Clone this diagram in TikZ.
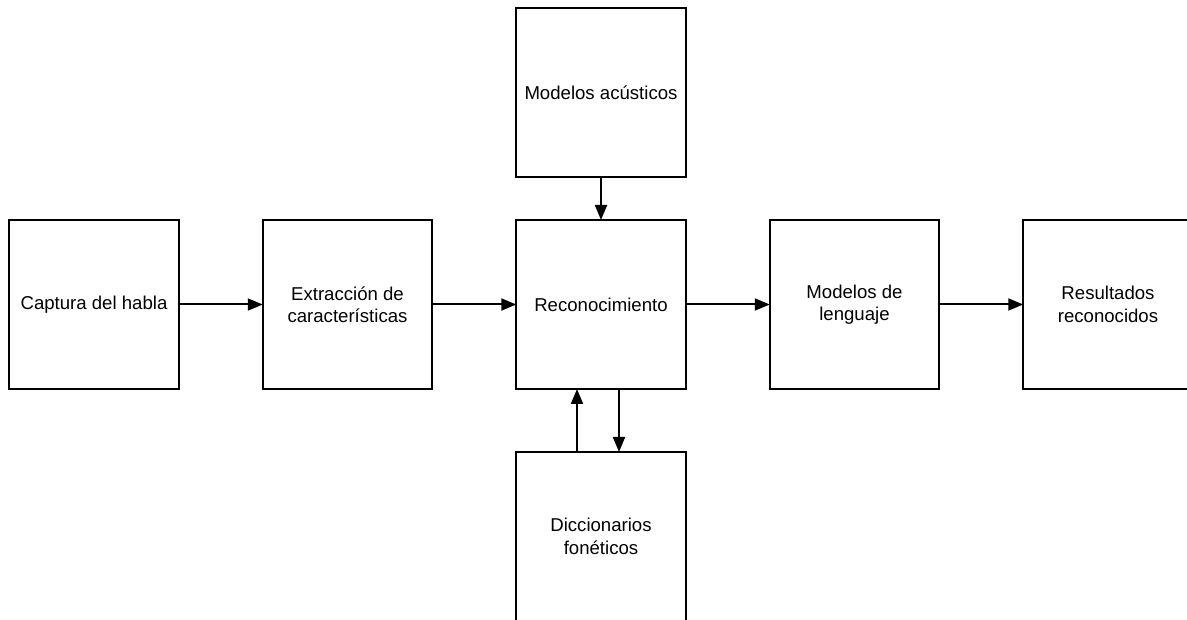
\documentclass[tikz,border=0pt]{standalone}
\usepackage{fontspec}
\setmainfont{Liberation Sans}
\usetikzlibrary{
  positioning,
  arrows.meta}

\begin{document}
\begin{tikzpicture}[
  x=1pt,y=1pt,
  >={Triangle[length=15pt,width=12pt]},
  line width=2pt,
  node distance=84pt,
  block/.style={draw,rectangle,align=center,minimum width=169.5pt,minimum height=169pt,
    inner sep=0pt,outer sep=0pt,font=\fontsize{18.6pt}{22.5pt}\selectfont}
]%
  \clip (0,0) rectangle (1187,-620);

  \node[block] (captura) at (94,-304.5) {Captura del habla};
  \node[block,right=of captura] (extraccion) {Extracción de\\características};
  \node[block,right=of extraccion] (reconoc) {Reconocimiento};
  \node[block,right=of reconoc] (lenguaje) {Modelos de\\lenguaje};
  \node[block,right=of lenguaje] (resultados) {Resultados\\reconocidos};
  \node[block,above=43pt of reconoc] (acusticos) {Modelos acústicos};
  \node[block,below=63pt of reconoc] (diccion) {Diccionarios\\fonéticos};

  \draw[->](captura)--(extraccion);
  \draw[->](extraccion)--(reconoc);
  \draw[->](reconoc)--(lenguaje);
  \draw[->](lenguaje)--(resultados);
  \draw[->](acusticos)--(reconoc);
  \draw[->]([xshift=-24pt]diccion.north)--([xshift=-24pt]reconoc.south);
  \draw[->]([xshift=18pt]reconoc.south)--([xshift=18pt]diccion.north);
\end{tikzpicture}
\end{document}
